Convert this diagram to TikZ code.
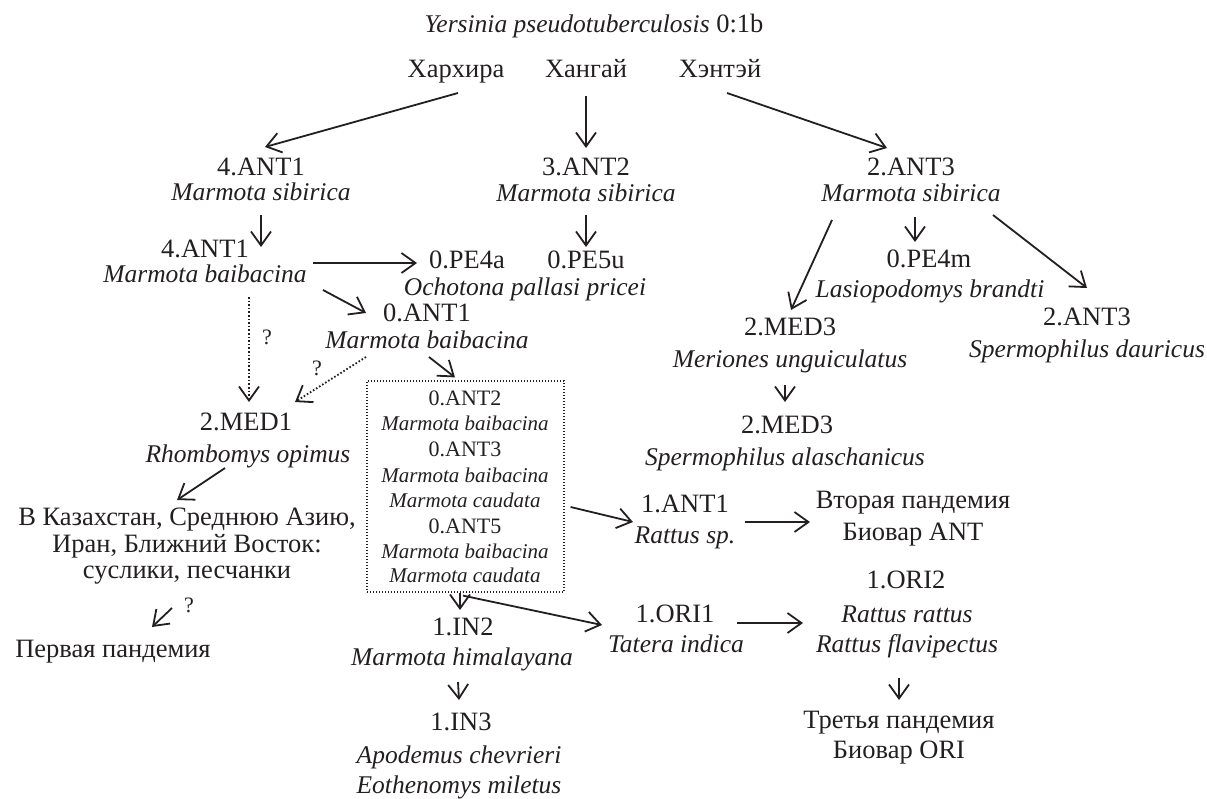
\documentclass[tikz,border=0pt]{standalone}
\usepackage{fontspec}
\setmainfont{Liberation Serif}
\usetikzlibrary{arrows.meta}
\definecolor{ink}{HTML}{231F20}
\tikzset{
  tx/.style={anchor=base, inner sep=0pt, text=ink, font=\fontsize{26.5}{28}\selectfont},
  txi/.style={anchor=base, inner sep=0pt, text=ink, font=\fontsize{25.5}{28}\selectfont\itshape},
  bx/.style={anchor=base, inner sep=0pt, text=ink, font=\fontsize{22}{24}\selectfont},
  bxi/.style={anchor=base, inner sep=0pt, text=ink, font=\fontsize{21}{24}\selectfont\itshape},
  qm/.style={anchor=center, inner sep=0pt, text=ink, font=\fontsize{22}{24}\selectfont},
  arr/.style={draw=ink, line width=1.8pt, -{Straight Barb[length=14pt,width=20pt]}},
  darr/.style={arr, dash pattern=on 1.6pt off 2pt},
  dbox/.style={draw=ink, line width=1.2pt, dash pattern=on 1.2pt off 1.8pt, inner sep=0pt, minimum width=197pt, minimum height=211pt},
}
\begin{document}
\begin{tikzpicture}[x=1pt,y=-1pt]
\useasboundingbox (0,0) rectangle (1207,798);
% title row
\node[tx] (title) at (594,32) {{\fontsize{25.5}{28}\selectfont\itshape Yersinia pseudotuberculosis} 0:1b};
\node[tx] (har) at (456,77) {Хархира};
\node[tx] (han) at (586,77) {Хангай};
\node[tx] (hen) at (720,77) {Хэнтэй};
% row 3
\node[tx] (a41) at (261,175) {4.ANT1};
\node[txi] (a41s) at (261,200) {Marmota sibirica};
\node[tx] (a32) at (586,175) {3.ANT2};
\node[txi] (a32s) at (586,201) {Marmota sibirica};
\node[tx] (a23) at (911,175) {2.ANT3};
\node[txi] (a23s) at (911,201) {Marmota sibirica};
% row 4
\node[tx] (b41) at (205,257) {4.ANT1};
\node[txi] (b41s) at (205,282) {Marmota baibacina};
\node[tx] (pe4a) at (467,268) {0.PE4a};
\node[txi] (pe4as) at (525,295) {Ochotona pallasi pricei};
\node[tx] (pe5u) at (586,268) {0.PE5u};
\node[tx] (pe4m) at (929,267) {0.PE4m};
\node[txi] (pe4ms) at (930,297) {Lasiopodomys brandti};
\node[tx] (b23) at (1087,325) {2.ANT3};
\node[txi] (b23s) at (1087,357) {Spermophilus dauricus};
\node[tx] (a01) at (427,321) {0.ANT1};
\node[txi] (a01s) at (427,348) {Marmota baibacina};
\node[tx] (m3) at (790,335) {2.MED3};
\node[txi] (m3s) at (790,367) {Meriones unguiculatus};
\node[tx] (n3) at (787,433) {2.MED3};
\node[txi] (n3s) at (785,465) {Spermophilus alaschanicus};
\node[tx] (m1) at (246,430) {2.MED1};
\node[txi] (m1s) at (248,462) {Rhombomys opimus};
\node[tx] (kz1) at (187,525) {В Казахстан, Среднюю Азию,};
\node[tx] (kz2) at (187,552) {Иран, Ближний Восток:};
\node[tx] (kz3) at (187,578) {суслики, песчанки};
\node[tx] (p1) at (113,657) {Первая пандемия};
\node[qm] (q1) at (267,337) {?};
\node[qm] (q2) at (317,368) {?};
\node[qm] (q3) at (189,605) {?};
% dotted box
\node[dbox] (box) at (465.5,486.5) {};
\node[bx] (bx1) at (465,405) {0.ANT2};
\node[bxi] (bx2) at (465,430) {Marmota baibacina};
\node[bx] (bx3) at (465,456) {0.ANT3};
\node[bxi] (bx4) at (465,482) {Marmota baibacina};
\node[bxi] (bx5) at (465,507) {Marmota caudata};
\node[bx] (bx6) at (465,533) {0.ANT5};
\node[bxi] (bx7) at (465,558) {Marmota baibacina};
\node[bxi] (bx8) at (465,582) {Marmota caudata};
% right lower part
\node[tx] (i1) at (685,512) {1.ANT1};
\node[txi] (i1s) at (685,543) {Rattus sp.};
\node[tx] (v1) at (913,508) {Вторая пандемия};
\node[tx] (v2) at (913,540) {Биовар ANT};
\node[tx] (o2) at (906,588) {1.ORI2};
\node[txi] (o2a) at (907,622) {Rattus rattus};
\node[txi] (o2b) at (907,652) {Rattus flavipectus};
\node[tx] (o1) at (675,622) {1.ORI1};
\node[txi] (o1s) at (676,652) {Tatera indica};
\node[tx] (t1) at (899,728) {Третья пандемия};
\node[tx] (t2) at (899,758) {Биовар ORI};
\node[tx] (in2) at (463,635) {1.IN2};
\node[txi] (in2s) at (462,665) {Marmota himalayana};
\node[tx] (in3) at (461,730) {1.IN3};
\node[txi] (in3a) at (459,763) {Apodemus chevrieri};
\node[txi] (in3b) at (459,793) {Eothenomys miletus};
% connectors
\draw[arr] ([shift={(2,16)}]har.base) -- ([shift={(4,-28)}]a41.base);
\draw[arr] ([shift={(0,19)}]han.base) -- ([shift={(0,-27)}]a32.base);
\draw[arr] ([shift={(7,16)}]hen.base) -- ([shift={(-24,-27)}]a23.base);
\draw[arr] ([shift={(0,15)}]a41s.base) -- ([shift={(56,-10)}]b41.base);
\draw[arr] ([shift={(0,14)}]a32s.base) -- ([shift={(0,-21)}]pe5u.base);
\draw[arr] ([shift={(4,16)}]a23s.base) -- ([shift={(-14,-25)}]pe4m.base);
\draw[arr] ([shift={(-79,19)}]a23s.base) -- ([shift={(1,-25)}]m3.base);
\draw[arr] ([shift={(82,14)}]a23s.base) -- ([shift={(0,-37)}]b23.base);
\draw[arr] ([shift={(108,-19)}]b41s.base) -- ([shift={(-50,-5)}]pe4a.base);
\draw[arr] ([shift={(118,8)}]b41s.base) -- ([shift={(-61,-8)}]a01.base);
\draw[darr] ([shift={(44,15)}]b41s.base) -- ([shift={(3,-28)}]m1.base);
\draw[darr] ([shift={(-61,9)}]a01s.base) -- ([shift={(49,-28)}]m1.base);
\draw[arr] ([shift={(2,9)}]a01s.base) -- ([shift={(-10.5,-3)}]box.north);
\draw[arr] ([shift={(-5,18)}]m3s.base) -- ([shift={(-2,-31)}]n3.base);
\draw[arr] ([shift={(-23,6)}]m1s.base) -- ([shift={(-10,-25)}]kz1.base);
\draw[arr] ([shift={(-15,30)}]kz3.base) -- ([shift={(39,-30)}]p1.base);
\draw[arr] ([shift={(6,20.5)}]box.east) -- ([shift={(-52,10)}]i1.base);
\draw[arr] ([shift={(60,10)}]i1.base) -- ([shift={(-103,14)}]v1.base);
\draw[arr] ([shift={(-5.5,0)}]box.south) -- ([shift={(-3,-25)}]in2.base);
\draw[arr] ([shift={(-2.5,3)}]box.south) -- ([shift={(-73,3)}]o1.base);
\draw[arr] ([shift={(62,1)}]o1.base) -- ([shift={(-104,1)}]o2a.base);
\draw[arr] ([shift={(-8,26)}]o2b.base) -- ([shift={(0,-28)}]t1.base);
\draw[arr] ([shift={(-4,17)}]in2s.base) -- ([shift={(-2,-30)}]in3.base);
\end{tikzpicture}
\end{document}
